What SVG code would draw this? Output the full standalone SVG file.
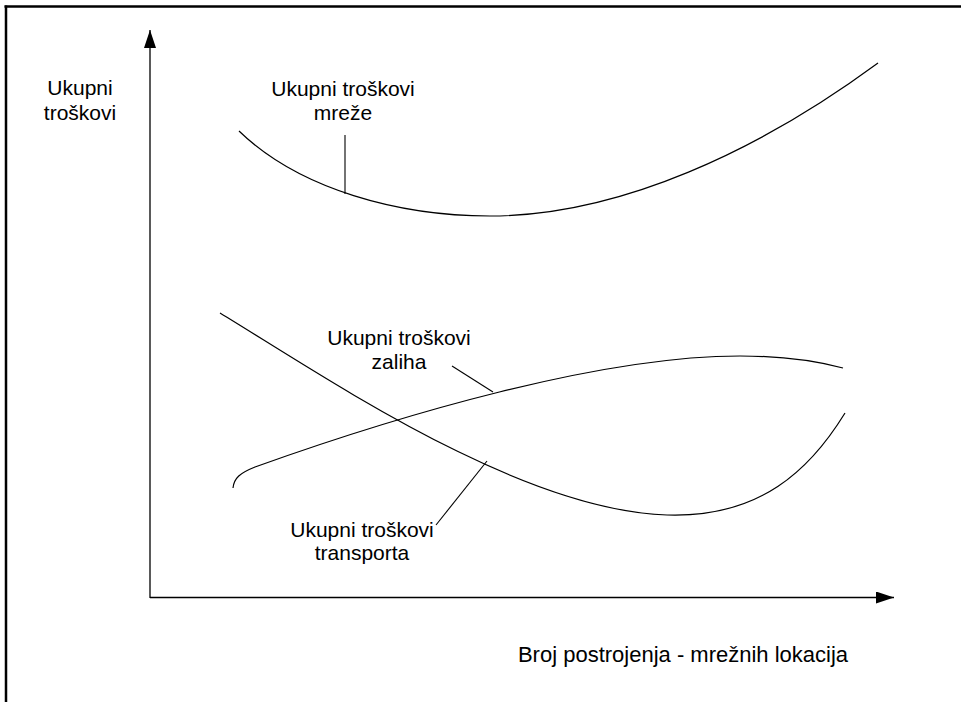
<svg xmlns="http://www.w3.org/2000/svg" width="961" height="702" viewBox="0 0 961 702">
<style>
  .lbl { font-family: "Liberation Sans", Arial, sans-serif; font-size: 21px; fill: #000; text-anchor: middle; }
  .big { font-size: 22px; }
  .curve { fill: none; stroke: #000; stroke-width: 1.2; }
  .axis { fill: none; stroke: #000; stroke-width: 1.3; }
  .lead { fill: none; stroke: #000; stroke-width: 1.1; }
</style>
<defs>
  <marker id="arr" viewBox="0 0 18 12" refX="18" refY="6" markerWidth="18" markerHeight="12" markerUnits="userSpaceOnUse" orient="auto">
    <path d="M0,0 L18,6 L0,12 Z" fill="#000"/>
  </marker>
</defs>
<rect width="961" height="702" fill="#fff"/>
<g id="frame">
  <line x1="4.5" y1="6.5" x2="961" y2="6.5" stroke="#000" stroke-width="2.5"/>
  <line x1="6" y1="5.5" x2="6" y2="702" stroke="#000" stroke-width="2.5"/>
</g>
<g id="axes">
  <line class="axis" x1="150" y1="598" x2="150" y2="30" marker-end="url(#arr)"/>
  <line class="axis" x1="150" y1="597.5" x2="894" y2="597.5" marker-end="url(#arr)"/>
</g>
<g id="y-label">
  <text class="lbl" x="80" y="95">Ukupni</text>
  <text class="lbl" x="80" y="120">troškovi</text>
</g>
<g id="x-label">
  <text class="lbl big" x="683" y="662">Broj postrojenja - mrežnih lokacija</text>
</g>
<g id="curve-mreze">
  <path class="curve" d="M239,131 C300,190 400,216 490,216 C620,216 760,150 878,63"/>
</g>
<g id="curve-transport">
  <path class="curve" d="M220,313 C330,380 520,510 667,515 C760,518 810,470 845,413"/>
</g>
<g id="curve-zaliha">
  <path class="curve" d="M233,488 C234,478 240,473 255,467 C400,415 600,356 740,356 C790,356 820,362 843,368"/>
</g>
<g id="label-mreze">
  <text class="lbl" x="343" y="96">Ukupni troškovi</text>
  <text class="lbl" x="343" y="120">mreže</text>
</g>
<g id="label-zaliha">
  <text class="lbl" x="399" y="345">Ukupni troškovi</text>
  <text class="lbl" x="399" y="369">zaliha</text>
</g>
<g id="label-transport">
  <text class="lbl" x="362" y="537">Ukupni troškovi</text>
  <text class="lbl" x="362" y="560">transporta</text>
</g>
<g id="connectors">
  <line class="lead" x1="345" y1="135" x2="345" y2="194"/>
  <line class="lead" x1="452" y1="366" x2="493" y2="392"/>
  <line class="lead" x1="487" y1="461" x2="436" y2="525"/>
</g>
</svg>
